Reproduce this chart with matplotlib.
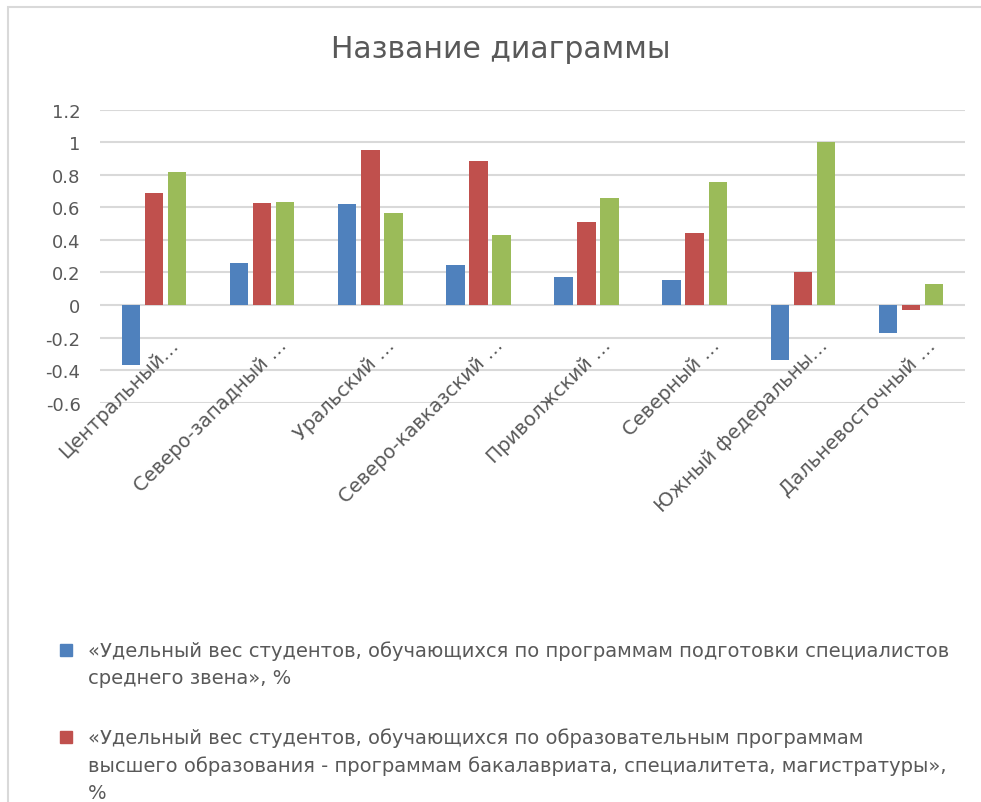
import matplotlib.pyplot as plt
from matplotlib.patches import Rectangle
import numpy as np

# data
regions = ['Центральный…', 'Северо-западный …', 'Уральский …', 'Северо-кавказский …',
           'Приволжский …', 'Северный …', 'Южный федеральны…', 'Дальневосточный …']
spo_share = [-0.37, 0.26, 0.62, 0.245, 0.17, 0.155, -0.34, -0.175]
vo_share = [0.69, 0.625, 0.95, 0.885, 0.51, 0.44, 0.205, -0.03]
third_share = [0.82, 0.635, 0.565, 0.43, 0.655, 0.755, 1.0, 0.13]

# only the first two legend entries are visible in the picture (the third is cut off)
series_names = [
    '«Удельный вес студентов, обучающихся по программам подготовки специалистов\nсреднего звена», %',
    '«Удельный вес студентов, обучающихся по образовательным программам\nвысшего образования - программам бакалавриата, специалитета, магистратуры»,\n%',
]
colors = ['#4F81BD', '#C0504D', '#9BBB59']
y_ticks = [-0.6, -0.4, -0.2, 0, 0.2, 0.4, 0.6, 0.8, 1, 1.2]
y_labels = ['-0.6', '-0.4', '-0.2', '0', '0.2', '0.4', '0.6', '0.8', '1', '1.2']

text_col = '#595959'
W, H = 981, 803

fig = plt.figure(figsize=(W / 100, H / 100), dpi=100)

# chart border (light grey frame, cut at the right and bottom)
fig.patches.append(Rectangle((8 / W, -0.1), 1.2, 1 - 8 / H + 0.1, transform=fig.transFigure,
                             fill=False, edgecolor='#D9D9D9', linewidth=1.5))

ax = fig.add_axes([100 / W, 1 - 403.6 / H, 865 / W, (403.6 - 110.7) / H])

x = np.arange(len(regions))
bw = 0.17
step = 0.213
for k, vals in enumerate([spo_share, vo_share, third_share]):
    ax.bar(x + (k - 1) * step, vals, width=bw, color=colors[k], zorder=3)

ax.set_xlim(-0.5, len(regions) - 0.5)
ax.set_ylim(-0.6, 1.2)
ax.set_yticks(y_ticks)
ax.set_yticklabels(y_labels)
ax.tick_params(axis='y', length=0, pad=14, labelsize=13, labelcolor=text_col)
ax.set_xticks([])
ax.grid(axis='y', color='#D9D9D9', linewidth=1.5, zorder=0)
for s in ax.spines.values():
    s.set_visible(False)

# category labels hang below the zero line
for i, lab in enumerate(regions):
    ax.text(i + 0.2, -0.225, lab, rotation=45, ha='right', va='center',
            rotation_mode='anchor', fontsize=14, color=text_col)

fig.text(0.51, 1 - 50 / H, 'Название диаграммы', ha='center', va='center',
         fontsize=21.5, color=text_col)

# legend below the plot
leg_top = [641, 728]
for k, name in enumerate(series_names):
    y0 = 1 - (leg_top[k] + 10) / H
    fig.patches.append(Rectangle((60 / W, y0 - 6 / H), 12 / W, 12 / H,
                                 transform=fig.transFigure, color=colors[k]))
    fig.text(88 / W, 1 - leg_top[k] / H, name, ha='left', va='top',
             fontsize=14, color=text_col, linespacing=1.55)

fig.savefig('out.png', dpi=100)
